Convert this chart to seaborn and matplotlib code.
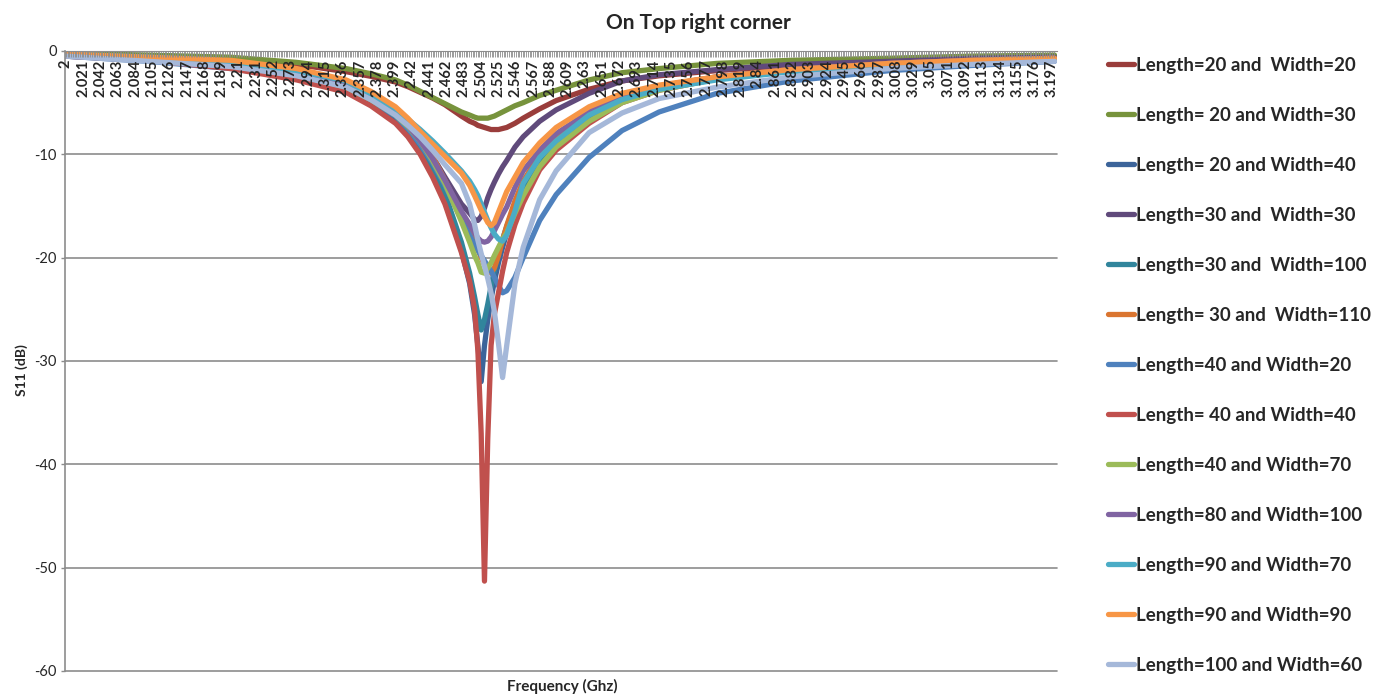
import numpy as np
import matplotlib
matplotlib.use('Agg')
import matplotlib.pyplot as plt
from matplotlib.ticker import FixedLocator
from matplotlib.lines import Line2D
import seaborn as sns

# frequency points (GHz)
freq = [2.00, 2.10, 2.20, 2.28, 2.34, 2.37, 2.40, 2.415, 2.43, 2.445, 2.46, 2.48, 2.49, 2.496, 2.50,
        2.504, 2.508, 2.512, 2.516, 2.52, 2.525, 2.53, 2.535, 2.545, 2.555, 2.575,
        2.595, 2.635, 2.675, 2.72, 2.79, 2.88, 3.00, 3.10, 3.20]

# S11 (dB) for each patch
l20_w20 = [-0.3, -0.5, -0.8, -1.3, -2.0, -2.45, -3.0, -3.45, -4.0, -4.55, -5.2, -6.3, -6.8, -7.0, -7.2,
           -7.3, -7.4, -7.5, -7.6, -7.6, -7.6, -7.5, -7.4, -7.0, -6.5, -5.6,
           -4.8, -3.7, -2.9, -2.4, -1.9, -1.4, -1.0, -0.8, -0.6]
l20_w30 = [-0.2, -0.4, -0.6, -1.1, -1.7, -2.2, -2.8, -3.3, -3.9, -4.5, -5.1, -5.9, -6.2, -6.4, -6.5,
           -6.5, -6.5, -6.5, -6.4, -6.3, -6.1, -5.9, -5.7, -5.3, -5.0, -4.3,
           -3.8, -2.8, -2.1, -1.7, -1.2, -0.9, -0.7, -0.5, -0.4]
l20_w40 = [-0.5, -0.9, -1.6, -2.6, -3.8, -5.0, -6.6, -7.9, -9.6, -11.8, -14.5, -19.3, -22.5, -25.5, -28.5,
           -32.0, -28.5, -26.0, -24.0, -22.3, -20.5, -19.0, -17.6, -15.3, -13.5, -10.8,
           -8.9, -6.4, -4.8, -3.7, -2.7, -1.9, -1.3, -1.0, -0.8]
l30_w30 = [-0.4, -0.8, -1.3, -2.1, -3.2, -4.3, -5.9, -7.1, -8.6, -10.2, -12.2, -14.8, -15.7, -16.3, -16.4,
           -16.0, -15.2, -14.2, -13.4, -12.7, -11.9, -11.2, -10.6, -9.3, -8.3, -6.8,
           -5.7, -4.1, -2.9, -2.3, -1.8, -1.3, -1.0, -0.7, -0.6]
l30_w100 = [-0.4, -0.8, -1.4, -2.3, -3.5, -4.7, -6.3, -7.6, -9.2, -11.3, -13.8, -18.5, -21.5, -23.8, -25.5,
            -27.0, -26.0, -24.5, -22.8, -21.2, -19.6, -18.2, -17.0, -14.8, -13.2, -10.6,
            -8.8, -6.3, -4.7, -3.6, -2.6, -1.8, -1.3, -1.0, -0.8]
l30_w110 = [-0.3, -0.7, -1.1, -1.9, -3.0, -4.1, -5.6, -6.8, -8.3, -10.2, -12.5, -15.8, -17.4, -18.4, -19.2,
            -20.0, -20.7, -21.2, -21.5, -21.0, -19.8, -18.3, -16.9, -14.5, -12.6, -10.0,
            -8.2, -5.9, -4.4, -3.4, -2.5, -1.8, -1.2, -0.9, -0.7]
l40_w20 = [-0.5, -1.0, -1.7, -2.6, -3.7, -4.8, -6.3, -7.5, -9.0, -10.8, -13.0, -16.3, -17.8, -18.7, -19.3,
           -19.8, -20.3, -20.8, -21.3, -21.9, -22.7, -23.4, -23.2, -21.9, -20.0, -16.4,
           -13.9, -10.3, -7.7, -5.9, -4.1, -2.9, -1.9, -1.4, -1.0]
l40_w40 = [-0.5, -0.9, -1.7, -2.8, -4.0, -5.3, -7.0, -8.3, -10.0, -12.2, -14.8, -19.5, -22.3, -25.0, -29.0,
           -37.0, -51.3, -37.5, -28.5, -25.5, -23.4, -21.3, -19.5, -16.8, -14.7, -11.5,
           -9.6, -7.0, -5.0, -3.8, -2.7, -1.9, -1.3, -1.0, -0.8]
l40_w70 = [-0.4, -0.8, -1.4, -2.3, -3.5, -4.7, -6.2, -7.3, -8.7, -10.6, -12.8, -16.5, -18.5, -19.8, -20.5,
           -21.4, -21.5, -21.0, -20.5, -19.8, -19.0, -18.2, -17.6, -15.7, -14.0, -11.2,
           -9.3, -6.8, -5.0, -3.8, -2.7, -1.9, -1.3, -1.0, -0.8]
l80_w100 = [-0.4, -0.8, -1.3, -2.2, -3.3, -4.4, -6.0, -7.2, -8.7, -10.4, -12.5, -15.5, -16.8, -17.6, -18.1,
            -18.4, -18.5, -18.4, -18.0, -17.4, -16.6, -15.8, -15.1, -13.2, -11.6, -9.6,
            -8.0, -5.9, -4.4, -3.4, -2.5, -1.8, -1.2, -0.9, -0.7]
l90_w70 = [-0.3, -0.6, -1.1, -1.9, -2.9, -4.2, -5.6, -6.6, -7.6, -8.7, -9.9, -11.6, -12.6, -13.4, -14.0,
           -14.8, -15.6, -16.4, -17.1, -17.7, -18.2, -18.4, -17.8, -15.5, -12.8, -10.3,
           -8.7, -6.2, -4.7, -3.7, -2.8, -2.0, -1.4, -1.0, -0.8]
l90_w90 = [-0.3, -0.6, -0.9, -1.7, -2.8, -3.9, -5.4, -6.5, -7.8, -9.0, -10.2, -11.8, -13.0, -14.0, -14.7,
           -15.4, -16.0, -16.6, -16.9, -16.6, -15.6, -14.6, -13.6, -12.2, -10.8, -8.9,
           -7.4, -5.4, -4.1, -3.3, -2.5, -1.8, -1.2, -0.9, -0.7]
l100_w60 = [-0.5, -1.0, -1.5, -2.4, -3.5, -4.7, -6.2, -7.2, -8.3, -9.6, -11.0, -12.8, -14.8, -16.8, -18.3,
            -19.6, -20.8, -22.0, -23.4, -25.2, -28.3, -31.6, -28.5, -22.5, -19.0, -14.4,
            -11.6, -7.9, -6.0, -4.6, -3.5, -2.5, -1.7, -1.3, -1.0]

series = [l20_w20, l20_w30, l20_w40, l30_w30, l30_w100, l30_w110, l40_w20,
          l40_w40, l40_w70, l80_w100, l90_w70, l90_w90, l100_w60]

labels = ['Length=20 and  Width=20', 'Length= 20 and Width=30', 'Length= 20 and Width=40',
          'Length=30 and  Width=30', 'Length=30 and  Width=100', 'Length= 30 and  Width=110',
          'Length=40 and Width=20', 'Length= 40 and Width=40', 'Length=40 and Width=70',
          'Length=80 and Width=100', 'Length=90 and Width=70', 'Length=90 and Width=90',
          'Length=100 and Width=60']

colors = ['#9A3D3B', '#77933C', '#3C649A', '#604A7B', '#31859C', '#DA7530', '#4F81BD',
          '#C0504D', '#9BBB59', '#8064A2', '#4BACC6', '#F79646', '#A5B8D9']

# category axis: labels every 10th category, categories every 0.0021 GHz
tick_freqs = np.round(2 + 0.021 * np.arange(58), 3)
tick_labels = [f'{t:g}' for t in tick_freqs]
minor_freqs = 2 + 0.0021 * np.arange(572)


def main():
    sns.set_style('white')
    plt.rcParams['font.family'] = ['Lato', 'DejaVu Sans']
    plt.rcParams['axes.unicode_minus'] = False

    W, H = 1386, 695
    fig = plt.figure(figsize=(W / 100, H / 100), dpi=100)
    ax = fig.add_axes([65 / W, 1 - 671 / H, (1057 - 65) / W, 620 / H])

    grey = '#8C8C8C'
    # horizontal gridlines behind the curves, axis labels stay on top
    for yv in range(-60, 0, 10):
        ax.axhline(yv, color=grey, linewidth=1.2, zorder=0.5, clip_on=False)

    for vals, lab, col in zip(series, labels, colors):
        sns.lineplot(x=freq, y=vals, color=col, linewidth=3.8, ax=ax, label=lab,
                     solid_joinstyle='round', solid_capstyle='round')

    ax.set_xlim(1.9988, 3.203)
    ax.set_ylim(-60, 0)
    ax.set_yticks(range(-60, 1, 10))
    ax.grid(False)
    ax.set_axisbelow(False)

    for s in ('top', 'right'):
        ax.spines[s].set_visible(False)
    ax.spines['left'].set_color(grey)
    ax.spines['left'].set_linewidth(1.2)
    ax.spines['bottom'].set_color(grey)
    ax.spines['bottom'].set_position(('data', 0))

    ax.xaxis.set_major_locator(FixedLocator(tick_freqs))
    ax.xaxis.set_minor_locator(FixedLocator(minor_freqs))
    ax.set_xticklabels(tick_labels, rotation=90, fontsize=10.5, fontweight='bold')
    ax.tick_params(axis='x', which='both', bottom=True, direction='out', length=4,
                   width=0.6, color=grey, pad=2)
    ax.tick_params(axis='y', left=True, direction='out', length=3, width=1,
                   color=grey, pad=3)
    for t in ax.get_yticklabels():
        t.set_fontsize(10.5)

    ax.legend_.remove()
    handles = [Line2D([], [], color=c, linewidth=3.8, solid_capstyle='round') for c in colors]
    fig.legend(handles, labels, loc='upper left', bbox_to_anchor=(1100 / W, 1 - 49 / H),
               frameon=False, prop=dict(weight='bold', size=13.5), handlelength=1.4,
               handletextpad=0.1, labelspacing=1.76, borderaxespad=0)

    fig.text(698 / W, 1 - 23 / H, 'On Top right corner', ha='center', va='center',
             fontsize=15, fontweight='bold')
    fig.text(562 / W, 1 - 686 / H, 'Frequency (Ghz)', ha='center', va='center',
             fontsize=11, fontweight='bold')
    fig.text(22 / W, 1 - 370 / H, 'S11 (dB)', ha='center', va='center', rotation=90,
             fontsize=10, fontweight='bold')

    fig.savefig('out.png', dpi=100)


if __name__ == '__main__':
    main()
